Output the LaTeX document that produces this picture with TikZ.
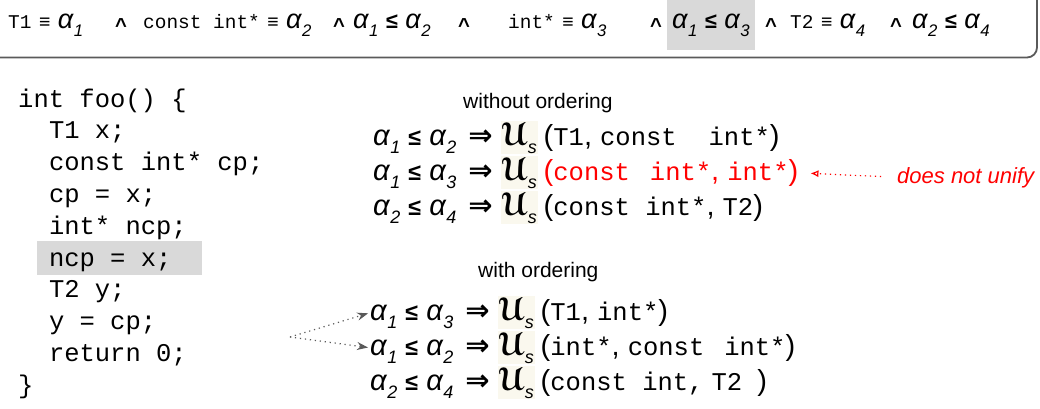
\documentclass[tikz,border=0pt]{standalone}
\usepackage{fontspec}
\setmainfont{Liberation Sans}
\setmonofont{Liberation Mono}[Scale=0.88]
\newfontfamily\topmono{Liberation Mono}[Scale=0.72]
\newfontfamily\symfont{DejaVu Sans}
\usepackage[mathscr]{eucal}
\usepackage{graphicx}
\usetikzlibrary{arrows.meta}

\definecolor{hlgray}{HTML}{D9D9D9}
\definecolor{framegray}{HTML}{5A5A5A}
\definecolor{arrowgray}{HTML}{595959}
\definecolor{usbg}{HTML}{FAF8EE}

% type variable alpha_n, unifier U_s, implication, conjunction
\newcommand{\al}[1]{\textit{α}\raisebox{-0.3em}{\scalebox{0.62}{\textit{#1}}}}
\newcommand{\Us}{{\setlength{\fboxsep}{1pt}\colorbox{usbg}{\scalebox{1.12}{\boldmath$\mathscr{U}$}\raisebox{-0.28em}{\scalebox{0.62}{\textit{s}}}}}\hspace{6pt}}
\newcommand{\imp}{\hspace{12pt}{\symfont\bfseries ⇒}\hspace{8pt}}
\newcommand{\conj}{\raisebox{-0.15em}{\scalebox{0.75}{\textbf{\textasciicircum}}}}
\newcommand{\eqv}{~\scalebox{0.72}{\textbf{≡}}~}
\newcommand{\leqv}{~\scalebox{0.8}{\textbf{≤}}~}

\tikzset{
  cons/.style={anchor=base west, inner sep=0pt, font=\fontsize{27}{27}\selectfont},
  code/.style={anchor=base west, inner sep=0pt, font=\fontsize{29}{29}\ttfamily},
  eqn/.style={anchor=base west, inner sep=0pt, font=\fontsize{29}{29}\selectfont},
  head/.style={anchor=base west, inner sep=0pt, font=\fontsize{21}{21}\selectfont},
  order/.style={draw=arrowgray, line width=1.2pt, dash pattern=on 1.2pt off 3.8pt,
    -{Stealth[length=11pt,width=8pt]}, shorten >=2pt},
  fail/.style={draw=red, line width=1.2pt, dash pattern=on 1.2pt off 3.8pt,
    -{Latex[open,length=8pt,width=7pt]}, shorten >=12pt, shorten <=16pt}
}

\begin{document}
\begin{tikzpicture}[x=1pt, y=-1pt]
  \useasboundingbox (0,0) rectangle (1040,408);

  % ---- constraint line ----
  \draw[framegray, line width=1.8pt, rounded corners=10pt]
    (-10,57.5) -- (1037,57.5) -- (1037,-20);

  \node[cons] (t1) at (8,28)   {{\topmono T1}\eqv\al{1}};
  \node[cons] (t2) at (143,28) {{\topmono const int*}\eqv\al{2}};
  \node[cons] (t3) at (353,28) {\al{1}\leqv\al{2}};
  \node[cons] (t4) at (508,28) {{\topmono int*}\eqv\al{3}};
  \node[cons, fill=hlgray, inner xsep=5pt, text height=28pt, text depth=22pt]
    (t5) at (667,28) {\al{1}\leqv\al{3}};
  \node[cons] (t6) at (790,28) {{\topmono T2}\eqv\al{4}};
  \node[cons] (t7) at (912,28) {\al{2}\leqv\al{4}};

  \foreach \x [count=\i] in {115,333,458,650,765,890}
    \node[cons] (a\i) at (\x,28) {\conj};

  % ---- source ----
  \fill[hlgray] (37,241) rectangle (202,275);
  \foreach \dx/\txt [count=\i from 0] in {0/int foo() \{, 2/T1 x;,
      2/const int* cp;, 2/cp = x;, 2/int* ncp;, 2/ncp = x;, 2/T2 y;,
      2/y = cp;, 2/return 0;, 0/\}}
    \node[code] (l\i) at (18+15.4*\dx, 107+31.8*\i) {\txt};

  % ---- without ordering ----
  \node[head] (h1) at (463,108) {without ordering};
  \node[eqn] (u1) at (373,145)
    {\al{1}\leqv\al{2}\imp\Us(\texttt{T1}, \texttt{const}\hspace{32pt}\texttt{int*})};
  \node[eqn] (u2) at (373,180)
    {\al{1}\leqv\al{3}\imp\Us\textcolor{red}{(\texttt{const}\hspace{20pt}\texttt{int*}, \texttt{int*})}};
  \node[eqn] (u3) at (373,215)
    {\al{2}\leqv\al{4}\imp\Us(\texttt{const int*}, \texttt{T2})};

  \node[head, font=\fontsize{22}{22}\selectfont\itshape, text=red] (dn) at (897,183) {does not unify};
  \draw[fail] (dn.west) -- (u2.east);

  % ---- with ordering ----
  \node[head] (h2) at (478,277) {with ordering};
  \node[eqn] (o1) at (370,320)
    {\al{1}\leqv\al{3}\imp\Us(\texttt{T1}, \texttt{int*})};
  \node[eqn] (o2) at (370,355)
    {\al{1}\leqv\al{2}\imp\Us(\texttt{int*}, \texttt{const}\hspace{20pt}\texttt{int*})};
  \node[eqn] (o3) at (370,390)
    {\al{2}\leqv\al{4}\imp\Us(\texttt{const int,}\hspace{8pt}\texttt{T2~})};

  \coordinate (src) at (290,337);
  \draw[order] (src) -- (o1.west);
  \draw[order] (src) -- (o2.west);

\end{tikzpicture}
\end{document}
